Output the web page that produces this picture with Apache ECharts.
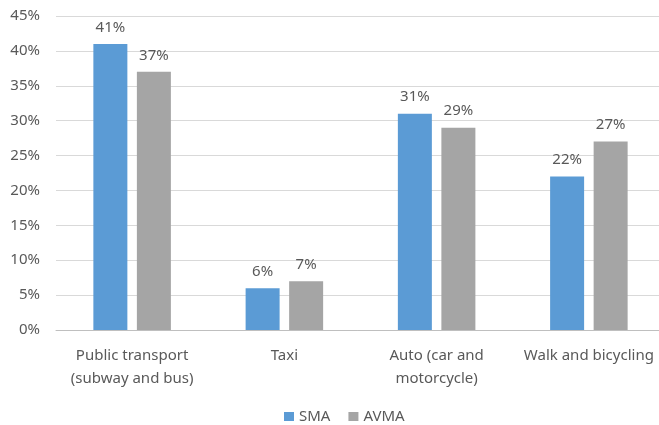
<!DOCTYPE html>
<html><head><meta charset="utf-8">
<script src="https://cdn.jsdelivr.net/npm/echarts@6/dist/echarts.min.js"></script>
<style>html,body{margin:0;padding:0;background:#fff}#c{width:659px;height:425px}</style>
</head><body><div id="c"></div>
<script>
const categories = ["Public transport\n(subway and bus)", "Taxi", "Auto (car and\nmotorcycle)", "Walk and bicycling"];
const sma = [41, 6, 31, 22];
const avma = [37, 7, 29, 27];
const yTicks = [0, 5, 10, 15, 20, 25, 30, 35, 40, 45];

const txt = '#595959';
const font = 'Noto Sans';
const fs = 15;
const chart = echarts.init(document.getElementById('c'));
const lbl = {show:true, position:'top', formatter:p=>p.value+'%', color:txt, fontFamily:font, fontSize:fs, distance:9};
chart.setOption({
  animation:false,
  grid:{left:56, width:609, top:16, bottom:95, outerBoundsMode:'none', containLabel:false},
  legend:{bottom:-4, left:279, itemWidth:10, itemHeight:9, itemGap:18, icon:'rect',
    textStyle:{color:txt, fontFamily:font, fontSize:fs}, data:['SMA','AVMA']},
  xAxis:{type:'category', data:categories,
    axisLine:{lineStyle:{color:'#bfbfbf'}}, axisTick:{show:false},
    axisLabel:{color:txt, fontFamily:font, fontSize:fs, margin:14, lineHeight:23, interval:0}},
  yAxis:{type:'value', min:yTicks[0], max:yTicks[yTicks.length-1], interval:5,
    axisLine:{show:false}, axisTick:{show:false},
    splitLine:{lineStyle:{color:'#d9d9d9'}},
    axisLabel:{formatter:v=>v+'%', color:txt, fontFamily:font, fontSize:fs, margin:16}},
  series:[
    {name:'SMA', type:'bar', data:sma, barWidth:34, barGap:'28%', itemStyle:{color:'#5B9BD5'}, label:lbl},
    {name:'AVMA', type:'bar', data:avma, barWidth:34, itemStyle:{color:'#A5A5A5'}, label:lbl}
  ]
});
</script></body></html>
